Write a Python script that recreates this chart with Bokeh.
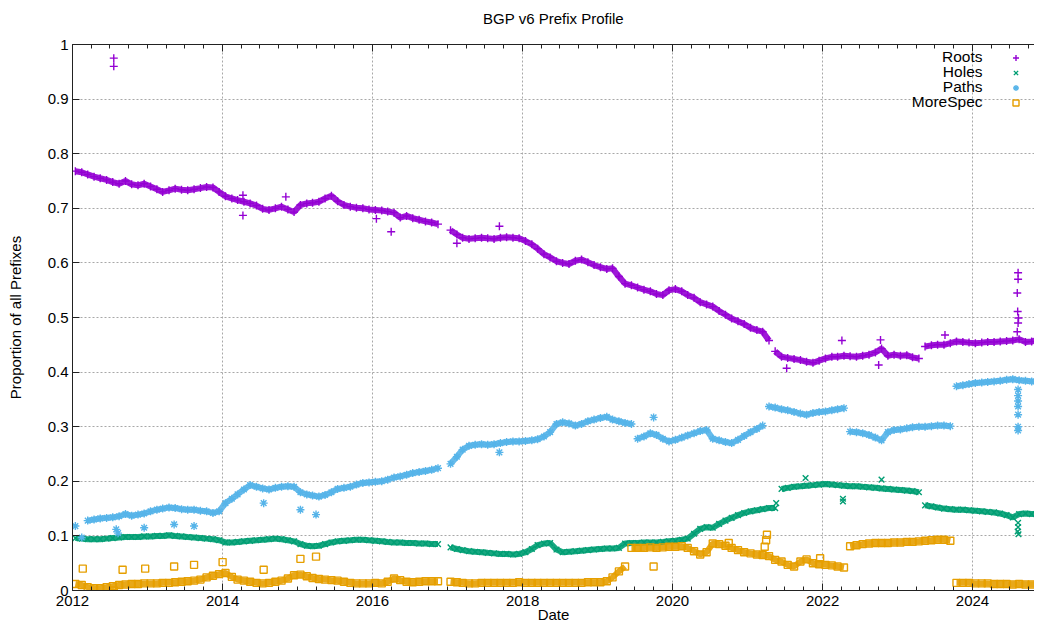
import numpy as np
import pandas as pd
from bokeh.plotting import figure
from bokeh.models import (Range1d, FixedTicker, DatetimeAxis, DatetimeTickFormatter,
                          Label, Legend, LegendItem, ColumnDataSource, CustomLabelingPolicy)
from bokeh.embed import file_html
from bokeh.resources import INLINE

# ---------------- data (monthly readings, mid-month) ----------------
start_month = "2012-01-01"
n_months = 155  # 2012-01 .. 2024-11

roots = (
    [0.768, 0.766, 0.762, 0.758, 0.755, 0.752, 0.748, 0.745, 0.750, 0.744, 0.742, 0.745] +
    [0.740, 0.735, 0.730, 0.733, 0.736, 0.734, 0.733, 0.735, 0.737, 0.739, 0.738, 0.730] +
    [0.722, 0.718, 0.715, 0.712, 0.709, 0.705, 0.699, 0.697, 0.700, 0.703, 0.698, 0.693] +
    [0.706, 0.709, 0.710, 0.712, 0.718, 0.723, 0.713, 0.706, 0.703, 0.701, 0.700, 0.698] +
    [0.697, 0.696, 0.694, 0.692, 0.683, 0.686, 0.682, 0.679, 0.676, 0.674, 0.671, None] +
    [0.660, 0.652, 0.646, 0.644, 0.645, 0.646, 0.645, 0.644, 0.646, 0.647, 0.646, 0.645] +
    [0.640, 0.634, 0.626, 0.616, 0.610, 0.603, 0.600, 0.598, 0.604, 0.606, 0.601, 0.596] +
    [0.592, 0.589, 0.590, 0.575, 0.562, 0.559, 0.555, 0.551, 0.548, 0.543, 0.541, 0.550] +
    [0.552, 0.548, 0.541, 0.536, 0.528, 0.524, 0.520, 0.512, 0.505, 0.498, 0.493, 0.488] +
    [0.481, 0.477, 0.474, 0.458, 0.438, 0.428, 0.426, 0.424, 0.422, 0.419, 0.417, 0.421] +
    [0.425, 0.428, 0.428, 0.430, 0.429, 0.428, 0.430, 0.432, 0.436, 0.443, 0.430, 0.432] +
    [0.430, 0.431, 0.427, 0.425, 0.447, 0.449, 0.450, 0.450, 0.453, 0.456, 0.455, 0.454] +
    [0.453, 0.454, 0.455, 0.455, 0.456, 0.457, 0.458, 0.460, 0.455, 0.456, 0.459]
)
holes = (
    [0.096, 0.095, 0.094, 0.094, 0.094, 0.095, 0.096, 0.097, 0.098, 0.098, 0.098, 0.099] +
    [0.099, 0.100, 0.100, 0.101, 0.100, 0.099, 0.098, 0.097, 0.096, 0.095, 0.094, 0.092] +
    [0.088, 0.088, 0.089, 0.090, 0.091, 0.092, 0.093, 0.094, 0.095, 0.094, 0.092, 0.090] +
    [0.085, 0.082, 0.081, 0.082, 0.085, 0.088, 0.090, 0.091, 0.092, 0.093, 0.093, 0.092] +
    [0.091, 0.090, 0.089, 0.088, 0.088, 0.087, 0.087, 0.086, 0.086, 0.085, 0.085, None] +
    [0.079, 0.076, 0.074, 0.072, 0.071, 0.070, 0.069, 0.068, 0.067, 0.067, 0.066, 0.067] +
    [0.070, 0.076, 0.083, 0.086, 0.087, 0.075, 0.070, 0.071, 0.072, 0.073, 0.074, 0.075] +
    [0.076, 0.077, 0.077, 0.078, 0.086, 0.087, 0.087, 0.088, 0.088, 0.088, 0.089, 0.090] +
    [0.091, 0.093, 0.095, 0.104, 0.113, 0.116, 0.115, 0.122, 0.128, 0.133, 0.138, 0.142] +
    [0.145, 0.147, 0.149, 0.151, 0.151, 0.186, 0.188, 0.190, 0.191, 0.192, 0.193, 0.194] +
    [0.195, 0.194, 0.193, 0.192, 0.191, 0.191, 0.190, 0.189, 0.188, 0.187, 0.186, 0.185] +
    [0.184, 0.183, 0.182, 0.180, 0.156, 0.154, 0.152, 0.150, 0.149, 0.148, 0.148, 0.147] +
    [0.146, 0.145, 0.144, 0.143, 0.141, 0.138, 0.134, 0.140, 0.141, 0.140, 0.140]
)
paths = (
    [0.118, 0.097, 0.128, 0.130, 0.132, 0.133, 0.134, 0.136, 0.140, 0.137, 0.139, 0.141] +
    [0.145, 0.148, 0.150, 0.152, 0.151, 0.149, 0.148, 0.148, 0.146, 0.145, 0.142, 0.145] +
    [0.160, 0.168, 0.176, 0.185, 0.193, 0.190, 0.187, 0.185, 0.188, 0.190, 0.191, 0.190] +
    [0.180, 0.176, 0.174, 0.172, 0.175, 0.180, 0.186, 0.188, 0.190, 0.194, 0.197, 0.198] +
    [0.199, 0.200, 0.203, 0.207, 0.209, 0.212, 0.215, 0.217, 0.219, 0.221, 0.224, None] +
    [0.232, 0.245, 0.258, 0.265, 0.267, 0.268, 0.267, 0.268, 0.270, 0.272, 0.273, 0.273] +
    [0.274, 0.275, 0.277, 0.282, 0.290, 0.305, 0.308, 0.306, 0.302, 0.305, 0.310, 0.313] +
    [0.316, 0.318, 0.313, 0.310, 0.307, 0.305, 0.278, 0.282, 0.288, 0.285, 0.278, 0.273] +
    [0.276, 0.280, 0.284, 0.288, 0.292, 0.294, 0.278, 0.275, 0.272, 0.270, 0.276, 0.283] +
    [0.290, 0.296, 0.302, 0.337, 0.335, 0.332, 0.330, 0.327, 0.324, 0.322, 0.325, 0.327] +
    [0.328, 0.330, 0.332, 0.334, 0.291, 0.290, 0.288, 0.285, 0.280, 0.275, 0.290, 0.294] +
    [0.295, 0.297, 0.299, 0.300, 0.300, 0.301, 0.302, 0.302, 0.301, 0.374, 0.376, 0.378] +
    [0.380, 0.381, 0.382, 0.383, 0.384, 0.386, 0.387, 0.385, 0.384, 0.383, 0.382]
)
morespec = (
    [0.012, 0.010, 0.006, 0.004, 0.004, 0.006, 0.008, 0.010, 0.011, 0.012, 0.012, 0.013] +
    [0.013, 0.013, 0.014, 0.014, 0.015, 0.016, 0.017, 0.018, 0.020, 0.024, 0.027, 0.030] +
    [0.032, 0.025, 0.020, 0.018, 0.016, 0.014, 0.013, 0.014, 0.016, 0.018, 0.022, 0.028] +
    [0.029, 0.026, 0.023, 0.021, 0.020, 0.019, 0.018, 0.016, 0.014, 0.013, 0.013, 0.013] +
    [0.014, 0.013, 0.016, 0.022, 0.019, 0.016, 0.015, 0.016, 0.017, 0.017, 0.017, None] +
    [0.016, 0.015, 0.014, 0.013, 0.013, 0.014, 0.014, 0.014, 0.014, 0.014, 0.014, 0.015] +
    [0.014, 0.014, 0.014, 0.014, 0.014, 0.014, 0.014, 0.014, 0.014, 0.014, 0.015, 0.015] +
    [0.015, 0.017, 0.024, 0.035, 0.044, 0.078, 0.078, 0.078, 0.079, 0.078, 0.079, 0.080] +
    [0.080, 0.081, 0.078, 0.072, 0.066, 0.070, 0.086, 0.085, 0.082, 0.078, 0.074, 0.070] +
    [0.068, 0.066, 0.065, 0.063, 0.056, 0.053, 0.047, 0.044, 0.053, 0.057, 0.050, 0.048] +
    [0.047, 0.046, 0.044, 0.042, 0.081, 0.083, 0.085, 0.086, 0.087, 0.087, 0.087, 0.088] +
    [0.088, 0.089, 0.089, 0.090, 0.091, 0.092, 0.093, 0.093, 0.091, 0.014, 0.014, 0.014] +
    [0.013, 0.013, 0.013, 0.012, 0.012, 0.012, 0.011, 0.012, 0.011, 0.011, 0.011]
)

# isolated readings (outliers / spikes)
roots_out_dates = ["2012-07-20", "2012-07-20", "2014-04-10", "2014-04-10", "2014-11-05",
                   "2016-01-20", "2016-04-01", "2017-02-15", "2017-09-10", "2021-07-10",
                   "2022-04-05", "2022-10-01", "2022-10-10", "2023-08-20",
                   "2024-08-10", "2024-08-10", "2024-08-06", "2024-08-08", "2024-08-12",
                   "2024-08-06", "2024-08-10"]
roots_out_vals = [0.975, 0.960, 0.724, 0.687, 0.721,
                  0.681, 0.657, 0.636, 0.667, 0.407,
                  0.458, 0.413, 0.459, 0.468,
                  0.582, 0.570, 0.545, 0.511, 0.499, 0.474, 0.490]
holes_out_dates = ["2021-05-20", "2021-10-10", "2022-04-10", "2022-04-10", "2022-10-15",
                   "2024-08-10", "2024-08-10", "2024-08-08", "2024-08-12"]
holes_out_vals = [0.160, 0.206, 0.168, 0.163, 0.203,
                  0.124, 0.116, 0.108, 0.103]
paths_out_dates = ["2012-08-01", "2012-08-10", "2012-12-15", "2013-05-10", "2013-08-15",
                   "2014-07-20", "2015-01-15", "2015-04-01", "2017-09-10", "2019-10-01",
                   "2024-08-10", "2024-08-10", "2024-08-10", "2024-08-10", "2024-08-10",
                   "2024-08-10", "2024-08-10"]
paths_out_vals = [0.112, 0.105, 0.115, 0.121, 0.118,
                  0.160, 0.148, 0.139, 0.253, 0.317,
                  0.368, 0.357, 0.347, 0.337, 0.322, 0.300, 0.293]
morespec_out_dates = ["2012-02-20", "2012-09-01", "2012-12-20", "2013-05-10", "2013-08-15",
                      "2014-01-01", "2014-07-20", "2015-01-15", "2015-04-01", "2019-10-01",
                      "2020-10-01", "2021-03-25", "2021-04-01", "2021-04-05", "2021-12-20",
                      "2012-07-20"]
morespec_out_vals = [0.040, 0.038, 0.040, 0.044, 0.047,
                     0.052, 0.038, 0.058, 0.062, 0.044,
                     0.087, 0.080, 0.092, 0.102, 0.059,
                     0.000]

series_names = ["Roots", "Holes", "Paths", "MoreSpec"]
series_colors = ["#9400D3", "#009E73", "#56B4E9", "#E69F00"]
series_markers = ["cross", "x", "asterisk", "square"]

y_ticks = [0, 0.1, 0.2, 0.3, 0.4, 0.5, 0.6, 0.7, 0.8, 0.9, 1]
y_tick_labels = ["0", "0.1", "0.2", "0.3", "0.4", "0.5", "0.6", "0.7", "0.8", "0.9", "1"]
x_tick_years = [2012, 2014, 2016, 2018, 2020, 2022, 2024]

title_text = "BGP v6 Prefix Profile"
x_title = "Date"
y_title = "Proportion of all Prefixes"

# ---------------- figure ----------------
FONT = "Liberation Sans"
TXT = "#000000"
W, H = 1034, 626
left_b, top_b = 72, 43
frame_w = W - left_b
frame_h = 547
bottom_b = H - top_b - frame_h
px_per_year = 75.0

x0 = pd.Timestamp("2012-01-01")
x1 = x0 + pd.Timedelta(days=frame_w / px_per_year * 365.25)

p = figure(width=W, height=H, x_axis_type="datetime", output_backend="svg",
           toolbar_location=None, x_range=Range1d(x0, x1), y_range=Range1d(0, 1),
           min_border_left=left_b, min_border_right=0, min_border_top=top_b,
           min_border_bottom=bottom_b)
p.outline_line_color = None
p.background_fill_color = "white"
p.border_fill_color = "white"

p.title.text = title_text
p.title.align = "center"
p.title.text_font = FONT
p.title.text_font_size = "15px"
p.title.text_font_style = "normal"
p.title.text_color = TXT
p.title.standoff = 14

def ms(ts):
    return pd.Timestamp(ts).value / 1e6

major_x = [ms(f"{y}-01-01") for y in x_tick_years]
minor_x = [ms(d) for d in pd.date_range("2011-01-01", "2026-01-01", freq="QS")]
xticker = FixedTicker(ticks=major_x, minor_ticks=minor_x)
fmt = DatetimeTickFormatter(years="%Y", months="%Y", days="%Y", hours="%Y")

AX = "#222222"
ax = p.xaxis[0]
ax.ticker = xticker
ax.formatter = fmt
ax.axis_label = x_title
ax.axis_label_text_font = FONT
ax.axis_label_text_font_size = "15px"
ax.axis_label_text_font_style = "normal"
ax.axis_label_text_color = TXT
ax.axis_label_standoff = -3
ax.major_label_text_font = FONT
ax.major_label_text_font_size = "15px"
ax.major_label_text_color = TXT
ax.major_label_standoff = 5
ax.major_tick_in = 7
ax.major_tick_out = 0
ax.minor_tick_in = 4
ax.minor_tick_out = 0
ax.axis_line_color = AX
ax.major_tick_line_color = AX
ax.minor_tick_line_color = AX

top = DatetimeAxis(ticker=xticker, formatter=fmt,
                   major_label_policy=CustomLabelingPolicy(code="return new Set()"))
top.major_label_standoff = 0
top.major_tick_in = 7
top.major_tick_out = 0
top.minor_tick_in = 4
top.minor_tick_out = 0
top.axis_line_color = AX
top.major_tick_line_color = AX
top.minor_tick_line_color = AX
p.add_layout(top, "above")

ay = p.yaxis[0]
ay.ticker = FixedTicker(ticks=y_ticks, minor_ticks=[])
ay.major_label_overrides = {t: l for t, l in zip(y_ticks, y_tick_labels)}
ay.axis_label = y_title
ay.axis_label_text_font = FONT
ay.axis_label_text_font_size = "15px"
ay.axis_label_text_font_style = "normal"
ay.axis_label_text_color = TXT
ay.axis_label_standoff = 21
ay.major_label_text_font = FONT
ay.major_label_text_font_size = "15px"
ay.major_label_text_color = TXT
ay.major_label_standoff = 4
ay.major_tick_in = 7
ay.major_tick_out = 0
ay.axis_line_color = AX
ay.major_tick_line_color = AX

for g in (p.xgrid[0], p.ygrid[0]):
    g.grid_line_color = "#a8a8a8"
    g.grid_line_dash = "2 2"
    g.grid_line_width = 1
p.xgrid[0].ticker = xticker
p.ygrid[0].ticker = FixedTicker(ticks=y_ticks)

# ---------------- points ----------------
dates = pd.date_range(start_month, periods=n_months, freq="MS") + pd.Timedelta(days=14)
main_vals = [roots, holes, paths, morespec]
out_dates = [roots_out_dates, holes_out_dates, paths_out_dates, morespec_out_dates]
out_vals = [roots_out_vals, holes_out_vals, paths_out_vals, morespec_out_vals]

JUMP = 0.02  # break the dense band where consecutive readings jump
legend_renderers = []
for name, col, mk, vals, od, ov in zip(series_names, series_colors, series_markers,
                                       main_vals, out_dates, out_vals):
    y = np.array([np.nan if v is None else v for v in vals], dtype=float)
    # dense band (many overlapping daily points in the original)
    lx, ly = [], []
    for i in range(len(y)):
        if i > 0 and not np.isnan(y[i]) and not np.isnan(y[i - 1]) and abs(y[i] - y[i - 1]) > JUMP:
            lx.append(dates[i]); ly.append(np.nan)
        lx.append(dates[i]); ly.append(y[i])
    p.line(lx, ly, line_color=col, line_width=6, line_alpha=0.9)
    src = ColumnDataSource(dict(x=list(dates) + list(pd.to_datetime(od)),
                                y=list(y) + list(ov)))
    size = 7 if mk == "square" else 8
    r = p.scatter("x", "y", source=src, marker=mk, size=size, line_color=col,
                  fill_color=None, line_width=1.4)
    legend_renderers.append(r)

# ---------------- key (gnuplot style: text right, symbol at far right) ----------------
row0 = frame_h - 13   # first row centre, measured from frame bottom
for i, name in enumerate(series_names):
    p.add_layout(Label(x=910, y=row0 - 15 * i, x_units="screen", y_units="screen",
                       text=name, text_align="right", text_baseline="middle",
                       text_font=FONT, text_font_size="15.5px", text_color=TXT))

leg = Legend(items=[LegendItem(label=" ", renderers=[r]) for r in legend_renderers],
             location=(936, frame_h - 6 - 60 - 1), glyph_width=15, glyph_height=15,
             spacing=0, padding=0, margin=0, label_standoff=0,
             label_text_font_size="6px", border_line_color=None,
             background_fill_alpha=0)
p.add_layout(leg)

open("out.html", "w").write(file_html(p, INLINE))
